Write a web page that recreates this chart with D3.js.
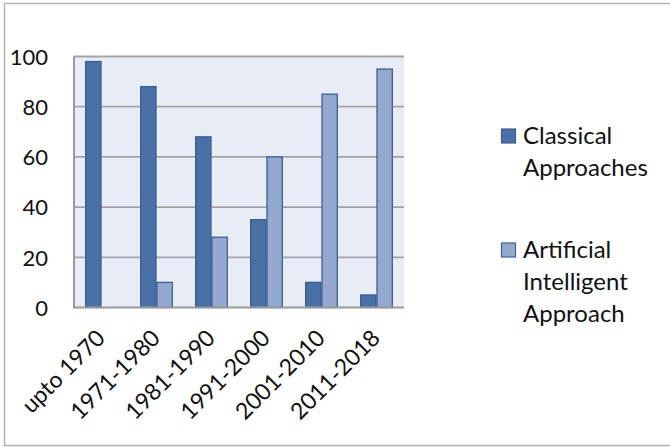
<!DOCTYPE html>
<html>
<head>
<meta charset="utf-8">
<script src="https://cdn.jsdelivr.net/npm/d3@7/dist/d3.min.js"></script>
<style>
  html, body { margin: 0; padding: 0; background: #fff; }
  svg { display: block; }
  text { font-family: Lato, "Open Sans", sans-serif; fill: #111; }
</style>
</head>
<body>
<svg id="chart" width="670" height="447"></svg>
<script>
const categories = ["upto 1970", "1971-1980", "1981-1990", "1991-2000", "2001-2010", "2011-2018"];
const seriesNames = ["Classical Approaches", "Artificial Intelligent Approach"];
const classical = [98, 88, 68, 35, 10, 5];
const artificial = [0, 10, 28, 60, 85, 95];
const yTicks = [0, 20, 40, 60, 80, 100];
const legendLines = [["Classical", "Approaches"], ["Artificial", "Intelligent", "Approach"]];

const svg = d3.select("#chart");
const W = 670, H = 447;

// outer frame
svg.append("rect")
  .attr("x", 4.5).attr("y", 3.5).attr("width", 700).attr("height", 442)
  .attr("fill", "#fff").attr("stroke", "#b3b3b3").attr("stroke-width", 1.5);

const plot = { left: 74, right: 404, top: 56.5, bottom: 307.5 };

const x = d3.scaleBand().domain(categories)
  .range([plot.left, plot.right])
  .paddingInner(0.407).paddingOuter(0.2035);
const xs = d3.scaleBand().domain([0, 1]).range([0, x.bandwidth()]);
const y = d3.scaleLinear().domain([0, 100]).range([plot.bottom, plot.top]);

// plot background
svg.append("rect")
  .attr("x", plot.left).attr("y", plot.top)
  .attr("width", plot.right - plot.left).attr("height", plot.bottom - plot.top)
  .attr("fill", "#e8edf5");

// gridlines
svg.append("g").selectAll("line").data(yTicks.filter(d => d > 0)).join("line")
  .attr("x1", plot.left).attr("x2", plot.right)
  .attr("y1", d => y(d)).attr("y2", d => y(d))
  .attr("stroke", "#a3a3a3").attr("stroke-width", 1.8);

// bars
const colors = [{ fill: "#4a70a8", stroke: "#3a5d8f" }, { fill: "#95a9d0", stroke: "#3d5f92" }];
const series = [classical, artificial];
series.forEach((vals, si) => {
  svg.append("g").selectAll("rect").data(vals).join("rect")
    .attr("x", (d, i) => x(categories[i]) + xs(si) + 0.5)
    .attr("y", d => y(d))
    .attr("width", xs.bandwidth() - 1)
    .attr("height", d => Math.max(0, y(0) - y(d)))
    .attr("fill", colors[si].fill)
    .attr("stroke", colors[si].stroke)
    .attr("stroke-width", 1.3)
    .attr("display", d => d > 0 ? null : "none");
});

// axes lines
svg.append("line").attr("x1", plot.left).attr("x2", plot.left)
  .attr("y1", plot.top).attr("y2", plot.bottom + 1)
  .attr("stroke", "#999").attr("stroke-width", 2);
svg.append("line").attr("x1", plot.left - 1).attr("x2", plot.right)
  .attr("y1", plot.bottom).attr("y2", plot.bottom)
  .attr("stroke", "#999").attr("stroke-width", 2);

// y-axis labels
const yAxis = d3.axisLeft(y).tickValues(yTicks).tickSize(0).tickPadding(26);
const gy = svg.append("g").attr("transform", `translate(${plot.left},0)`).call(yAxis);
gy.select(".domain").remove();
gy.selectAll("text").style("font-size", "22px").style("font-family", "Lato, 'Open Sans', sans-serif").attr("fill", "#111").attr("dy", "0.35em");

// x-axis labels
const xAxis = d3.axisBottom(x).tickSize(0).tickPadding(0);
const gx = svg.append("g").attr("transform", `translate(0,${plot.bottom})`).call(xAxis);
gx.select(".domain").remove();
gx.selectAll("text")
  .style("font-size", "23px").style("font-family", "Lato, 'Open Sans', sans-serif")
  .attr("fill", "#111")
  .attr("text-anchor", "end")
  .attr("dy", 0).attr("y", 0)
  .attr("transform", "translate(5,32) rotate(-45)");

// legend
const legendTops = [129, 243];
legendLines.forEach((lines, li) => {
  const g = svg.append("g");
  g.append("rect").attr("x", 501.5).attr("y", legendTops[li]).attr("width", 14).attr("height", 14)
    .attr("fill", colors[li].fill).attr("stroke", colors[li].stroke).attr("stroke-width", 1.2);
  lines.forEach((t, k) => {
    g.append("text").attr("x", 523).attr("y", legendTops[li] + 15 + k * 32)
      .style("font-size", "24px").text(t);
  });
});
</script>
</body>
</html>
